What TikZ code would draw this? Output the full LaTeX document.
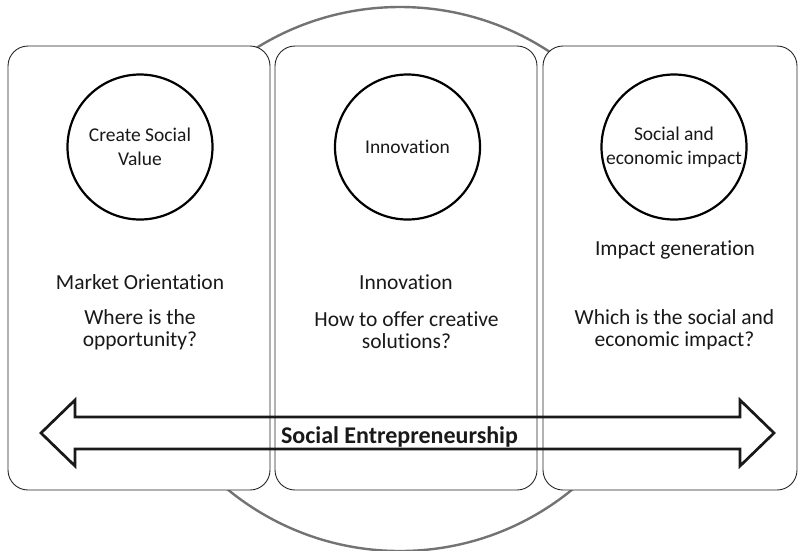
\documentclass[tikz,border=0pt]{standalone}
\usepackage{fontspec}
\setmainfont{Carlito}[Ligatures=NoCommon]
\begin{document}
\begin{tikzpicture}[x=1pt, y=-1pt,
    ring/.style={draw=black!55, circle, line width=2.4pt, minimum size=544pt, inner sep=0pt},
    panel/.style={draw=black!85, line width=0.9pt, rounded corners=20pt, fill=white, minimum height=444pt, inner sep=0pt},
    idea/.style={draw=black, circle, line width=2.2pt, minimum size=145pt, inner sep=0pt, align=center, text=black!90, font=\fontsize{19.5}{24}\selectfont},
    caption/.style={align=center, inner sep=0pt, text=black!90, font=\fontsize{21.5}{22}\selectfont}]
                \useasboundingbox (0,0) rectangle (799,550);

                % Background ring
                \node[ring] at (400, 279) (big) {};

                % Panels
                \node[panel, minimum width=262pt] at (139, 268) (p1) {};
                \node[panel, minimum width=262pt] at (406, 268) (p2) {};
                \node[panel, minimum width=254pt] at (670, 268) (p3) {};

                % Circles
                \node[idea] at (140, 147) (c1) {Create Social\\Value};
                \node[idea] at (407.5, 147) (c2) {Innovation};
                \node[idea] at (674, 147) (c3) {Social and\\economic impact};

                % Texts
                \node[caption] at (140, 282) (t1) {Market Orientation};
                \node[caption] at (140, 330) (q1) {Where is the\\opportunity?};
                \node[caption] at (406, 282) (t2) {Innovation};
                \node[caption] at (406.5, 330) (q2) {How to offer creative\\solutions?};
                \node[caption] at (675, 250) (t3) {Impact generation};
                \node[caption] at (674.5, 330) (q3) {Which is the social and\\economic impact?};

                % Arrow
                \draw[black!90, line width=2.7pt] (41, 433) -- (75, 400) -- (75, 417) -- (740, 417) -- (740, 400)
                    -- (774, 433) -- (740, 466) -- (740, 449) -- (75, 449) -- (75, 466) -- cycle;
                \node[inner sep=0pt, text=black!90, font=\fontsize{24}{28}\selectfont\bfseries] at (399.5, 436.5) (se) {Social Entrepreneurship};
            \end{tikzpicture}
\end{document}
